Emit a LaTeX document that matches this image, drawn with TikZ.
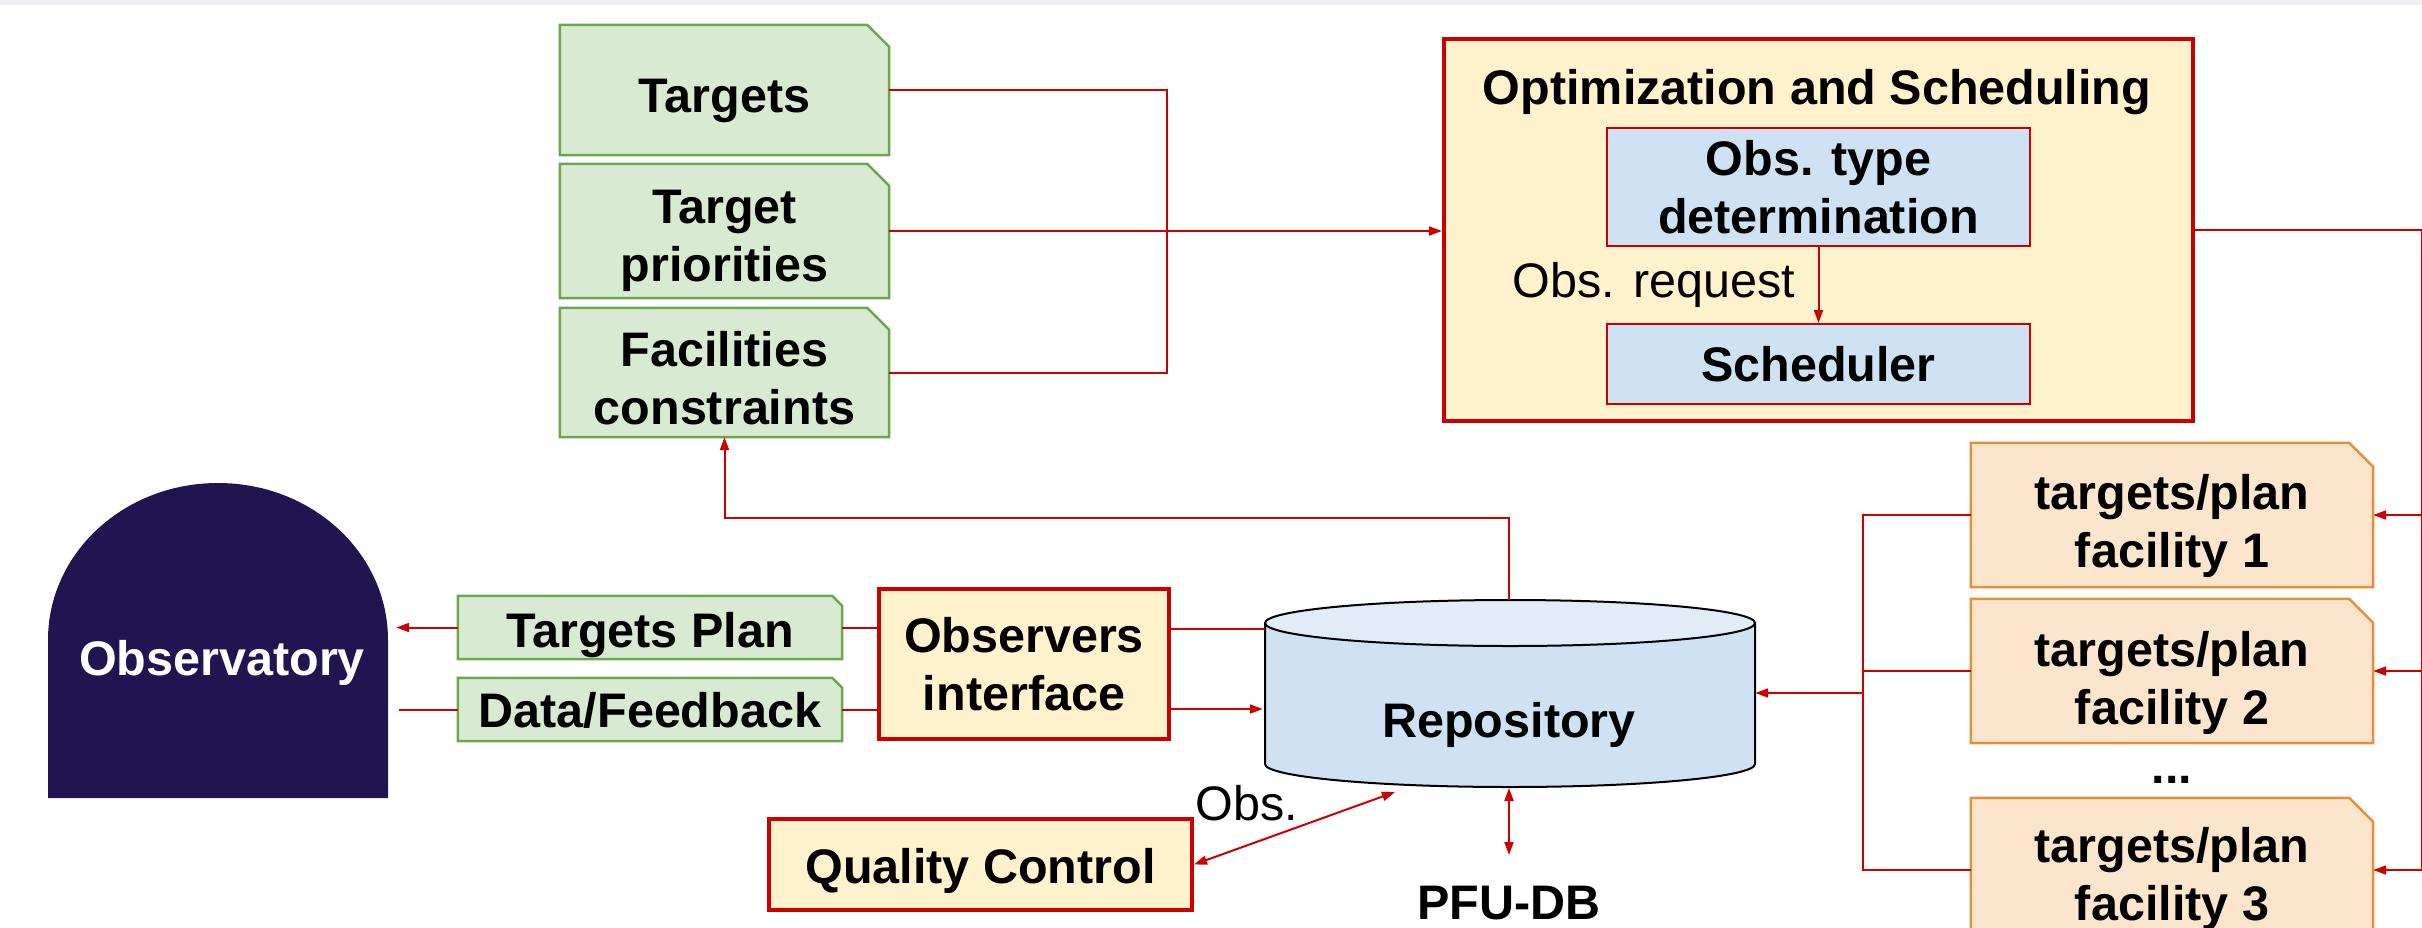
\documentclass[tikz,border=0pt]{standalone}
\usepackage{fontspec}
\setmainfont{Liberation Sans}
\usetikzlibrary{arrows.meta,backgrounds,calc}
\definecolor{gfill}{HTML}{D9EAD3}
\definecolor{gline}{HTML}{6AA84F}
\definecolor{yfill}{HTML}{FFF2CC}
\definecolor{lred}{HTML}{CC0000}
\definecolor{bfill}{HTML}{CFE2F3}
\definecolor{btop}{HTML}{E2ECF7}
\definecolor{ofill}{HTML}{FCE5CD}
\definecolor{oline}{HTML}{E69138}
\definecolor{navy}{HTML}{211551}
\definecolor{band}{HTML}{EFEFF4}
\begin{document}
\begin{tikzpicture}[x=1pt,y=-1pt,
  txt/.style={font=\fontsize{48.5}{58}\selectfont\bfseries, align=center, inner sep=0pt},
  rtxt/.style={font=\fontsize{48.5}{58}\selectfont, align=center, inner sep=0pt},
  cutbox/.style={draw=none, inner sep=0pt, minimum width=#1},
  gshape/.style={fill=gfill, draw=gline, line width=2.5pt},
  oshape/.style={fill=ofill, draw=oline, line width=2.5pt},
  thickbox/.style={txt, draw=lred, fill=yfill, line width=4pt},
  bluebox/.style={txt, draw=lred, fill=bfill, line width=2pt, minimum width=423pt},
  conn/.style={draw=lred, line width=2pt},
  arr/.style={conn, -{Triangle[length=13pt,width=9pt]}},
  darr/.style={conn, {Triangle[length=13pt,width=9pt]}-{Triangle[length=13pt,width=9pt]}}
]
\useasboundingbox (0,0) rectangle (2422,927);
\fill[band] (0,0) rectangle (2422,5);

% Observatory dome
\node[minimum width=340pt, minimum height=315pt, inner sep=0pt] (obsv) at (218,640.5) {};
\fill[navy] (48,798) -- (48,640) .. controls (48,553) and (124,483) .. (218,483)
  .. controls (312,483) and (388,553) .. (388,640) -- (388,798) -- cycle;
\node[txt, text=white] (obstxt) at (222,663) {Observatory};

% Input documents
\node[cutbox=329pt, minimum height=130pt] (tg) at (724.5,90) {};
\node[cutbox=329pt, minimum height=134pt] (tp) at (724.5,231) {};
\node[cutbox=329pt, minimum height=129pt] (fc) at (724.5,372.5) {};
\node[txt] (tgt) at ([yshift=-11pt]tg.center) {Targets};
\node[txt] (tpt) at ([yshift=-10pt]tp.center) {Target\\priorities};
\node[txt] (fct) at ([yshift=-6pt]fc.center) {Facilities\\constraints};

% Optimization and scheduling
\node[thickbox, minimum width=749pt, minimum height=382pt] (opt) at (1818.5,230) {};
\node[txt, anchor=base] (opttitle) at (1817,104) {Optimization and Scheduling};
\node[bluebox, minimum height=118pt] (otd) at (1818.5,187) {Obs. type\\determination};
\node[bluebox, minimum height=80pt] (sch) at (1818.5,364) {Scheduler};
\node[rtxt] (obsreq) at (1654,285) {Obs. request};
\draw[arr] (otd.south) -- (sch.north);

% Facility plans
\node[cutbox=402pt, minimum height=144pt] (f1) at (2172,515) {};
\node[cutbox=402pt, minimum height=144pt] (f2) at (2172,671) {};
\node[cutbox=402pt, minimum height=144pt] (f3) at (2172,870) {};
\node[txt] (f1t) at ([yshift=-11pt]f1.center) {targets/plan\\facility 1};
\node[txt] (f2t) at ([yshift=-12pt]f2.center) {targets/plan\\facility 2};
\node[txt] (f3t) at ([yshift=-9pt]f3.center) {targets/plan\\facility 3};
\node[txt] (dots) at (2172,780) {...};

% Observer side
\node[cutbox=384pt, minimum height=63pt] (tpl) at (650,627.5) {};
\node[cutbox=384pt, minimum height=63pt] (df) at (650,709.5) {};
\node[txt] (tplt) at ([yshift=-8pt]tpl.center) {Targets Plan};
\node[txt] (dft) at ([yshift=-1pt]df.center) {Data/Feedback};
\node[thickbox, minimum width=290pt, minimum height=150pt] (oi) at (1024,664) {Observers\\interface};
\node[thickbox, minimum width=423pt, minimum height=91pt] (qc) at (980.5,864.5) {};
\node[txt] (qct) at ([yshift=-6pt]qc.center) {Quality Control};

% Repository cylinder
\node[minimum width=490pt, minimum height=187pt, inner sep=0pt] (repo) at (1510,693.5) {};
\filldraw[fill=bfill, draw=black, line width=2pt] (1265,623) -- (1265,764)
  .. controls (1265,776.7) and (1374.7,787) .. (1510,787)
  .. controls (1645.3,787) and (1755,776.7) .. (1755,764) -- (1755,623) -- cycle;
\filldraw[fill=btop, draw=black, line width=2pt] (1510,623) ellipse [x radius=245pt, y radius=23pt];
\node[txt] (repotxt) at (1509,725) {Repository};
\node[txt] (pfu) at (1509,903) {PFU-DB};
\node[rtxt] (obslab) at (1247,803) {Obs.};

% Cut-corner shapes
\begin{scope}[on background layer]
\foreach \n in {tg,tp,fc}{
  \filldraw[gshape] (\n.south west) -- (\n.north west) -- ([xshift=-22pt]\n.north east)
    -- ([yshift=-22pt]\n.north east) -- (\n.south east) -- cycle;}
\foreach \n in {tpl,df}{
  \filldraw[gshape] (\n.south west) -- (\n.north west) -- ([xshift=-10pt]\n.north east)
    -- ([yshift=-10pt]\n.north east) -- (\n.south east) -- cycle;}
\foreach \n in {f1,f2,f3}{
  \filldraw[oshape] (\n.south west) -- (\n.north west) -- ([xshift=-24pt]\n.north east)
    -- ([yshift=-24pt]\n.north east) -- (\n.south east) -- cycle;}
\end{scope}

% Connectors: inputs to optimization
\coordinate (jx) at (1167,231);
\draw[conn] (tg.east) -| (jx) |- (fc.east);
\draw[arr] (tp.east) -- (opt.west |- tp.east);

% Optimization to facilities (right edge)
\coordinate (redge) at (2422,230);
\draw[conn] (opt.east) -- (redge) -- (redge |- f3.east);
\foreach \n in {f1,f2,f3}{\draw[arr] (redge |- \n.east) -- (\n.east);}

% Facilities to repository
\coordinate (fx) at (1863,693);
\draw[conn] (f1.west) -| (fx) |- (f3.west);
\draw[conn] (f2.west) -- (fx |- f2.west);
\draw[arr] (fx) -- (repo.east |- fx);

% Repository to facilities constraints
\coordinate (ry) at (1509,518);
\draw[arr] (repo.north -| ry) -- (ry) -| (fc.south);

% Observer side
\draw[arr] (tpl.west) -- ([xshift=8pt]obsv.east |- tpl.west);
\draw[conn] ([xshift=11pt]obsv.east |- df.west) -- (df.west);
\draw[conn] (tpl.east) -- (oi.west |- tpl.east);
\draw[conn] (df.east) -- (oi.west |- df.east);
\draw[conn] (oi.east |- 0,629) -- (repo.west |- 0,629);
\draw[arr] (oi.east |- 0,709) -- ([xshift=-2pt]repo.west |- 0,709);

% Quality control and PFU-DB
\coordinate (qa) at (1395,792);
\draw[darr] (qc.east) -- (qa);
\coordinate (pa) at (1509,788);
\coordinate (pb) at (1509,855);
\draw[darr] (pa) -- (pb);
\end{tikzpicture}
\end{document}
